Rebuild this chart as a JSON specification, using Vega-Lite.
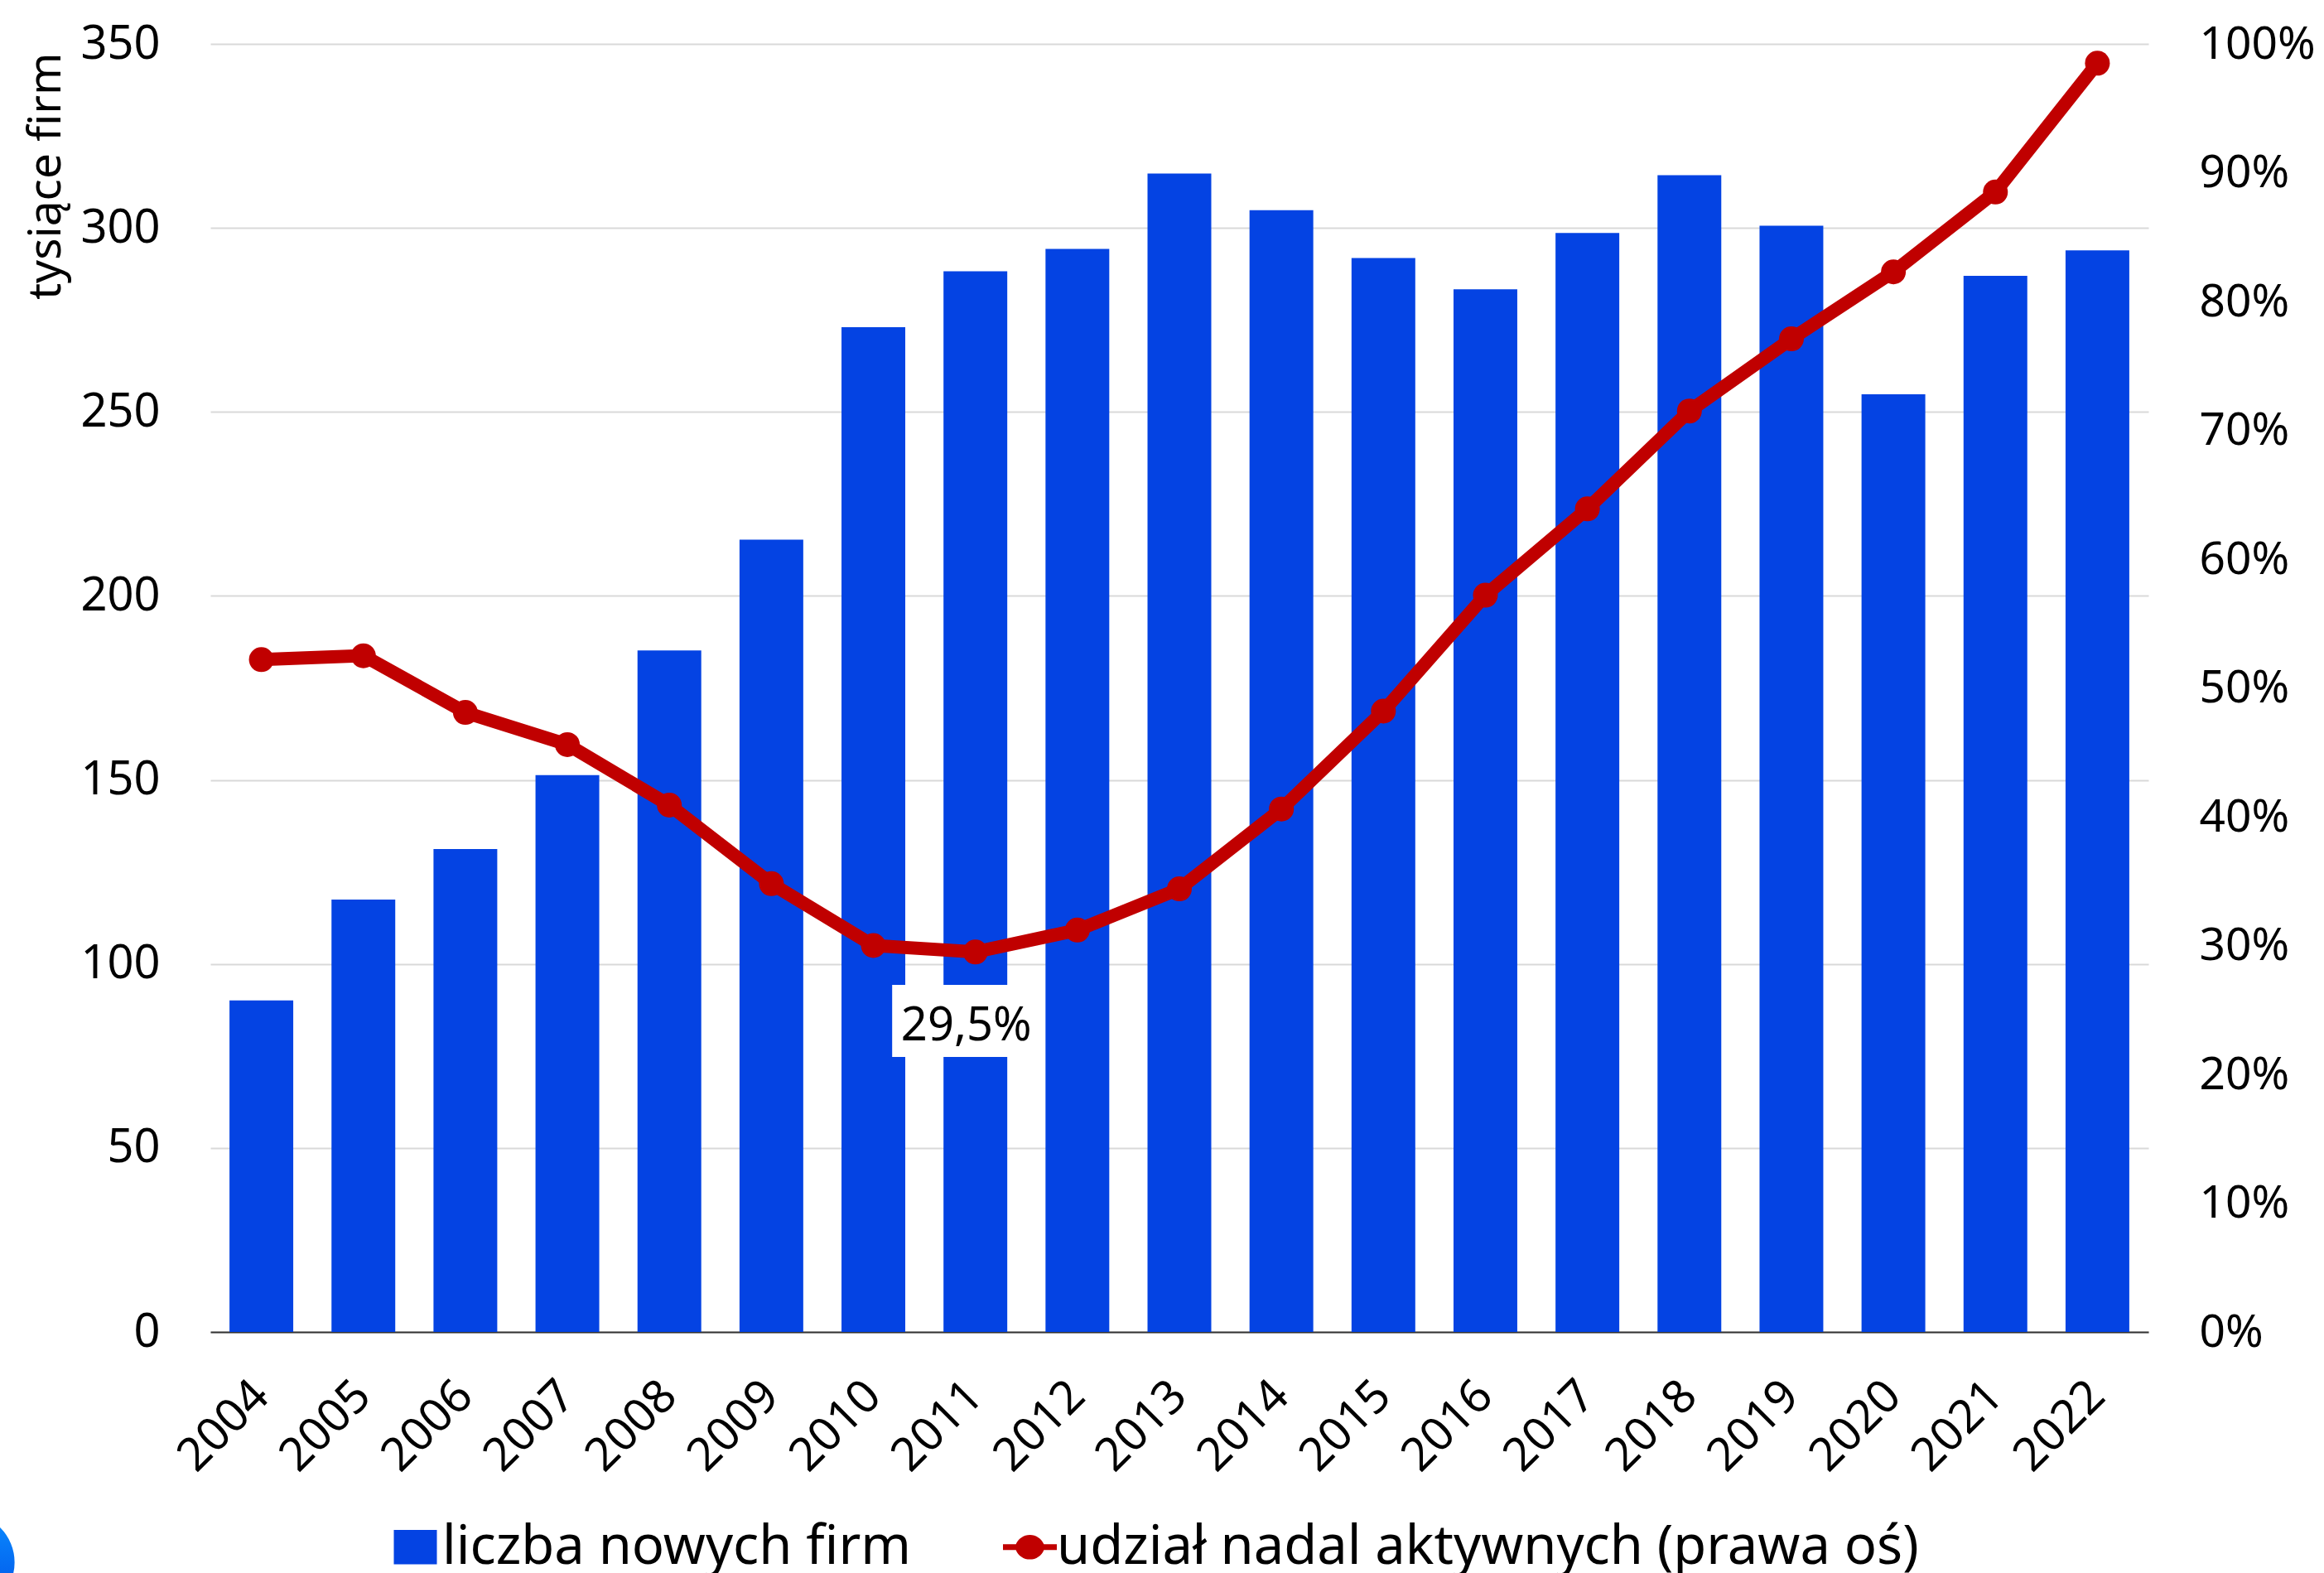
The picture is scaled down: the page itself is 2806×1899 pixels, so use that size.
{
"$schema":"https://vega.github.io/schema/vega-lite/v6.json",
"width":2340,"height":1555,"autosize":"none",
"padding":{"left":254,"top":53,"right":212,"bottom":291},
"background":"white",
"config":{"view":{"stroke":null},"font":"Noto Sans"},
"data":{"values":[
{"rok":"2004","firmy":90.1,"udzial":52.2},{"rok":"2005","firmy":117.5,"udzial":52.5},{"rok":"2006","firmy":131.2,"udzial":48.1},{"rok":"2007","firmy":151.3,"udzial":45.6},{"rok":"2008","firmy":185.2,"udzial":40.9},{"rok":"2009","firmy":215.3,"udzial":34.8},{"rok":"2010","firmy":273,"udzial":30},{"rok":"2011","firmy":288.2,"udzial":29.5},{"rok":"2012","firmy":294.3,"udzial":31.2},{"rok":"2013","firmy":314.8,"udzial":34.4},{"rok":"2014","firmy":304.8,"udzial":40.6},{"rok":"2015","firmy":291.8,"udzial":48.2},{"rok":"2016","firmy":283.3,"udzial":57.2},{"rok":"2017","firmy":298.6,"udzial":63.9},{"rok":"2018","firmy":314.3,"udzial":71.5},{"rok":"2019","firmy":300.6,"udzial":77.1},{"rok":"2020","firmy":254.8,"udzial":82.3},{"rok":"2021","firmy":287,"udzial":88.5},{"rok":"2022","firmy":293.9,"udzial":98.5}
]},
"encoding":{"x":{"field":"rok","type":"nominal","sort":null,"scale":{"paddingInner":0.375,"paddingOuter":0.1875},
"axis":{"title":null,"labelAngle":-45,"labelFontSize":56,"labelColor":"#000","domainColor":"#333333","domainWidth":2,"ticks":false,"labelPadding":68,"labelDx":3,"labelAlign":"right","labelBaseline":"middle"}}},
"layer":[
{"layer":[
{"mark":{"type":"bar"},
"encoding":{"y":{"field":"firmy","type":"quantitative","scale":{"domain":[0,350]},
"axis":{"values":[0,50,100,150,200,250,300,350],"title":"tysiące firm","titleFontSize":55,"titleFontWeight":"normal","titleColor":"#000","titleAnchor":"end","titleX":-170,"titleY":10,"labelFontSize":56,"labelColor":"#000","labelPadding":61,"ticks":false,"domain":false,"grid":true,"gridColor":"#d9d9d9","gridWidth":2}},
"color":{"datum":"liczba nowych firm","type":"nominal","scale":{"domain":["liczba nowych firm","udział nadal aktywnych (prawa oś)"],"range":["#0443e3","#c00000"]},
"legend":{"title":null,"orient":"none","legendX":215,"legendY":1782,"direction":"horizontal","columns":2,"labelFontSize":65,"labelColor":"#000","labelOffset":0,"labelLimit":0,"symbolSize":2704,"columnPadding":110,"symbolStrokeWidth":0,"symbolOpacity":1}}}},
{"transform":[{"filter":"datum.rok==='2011'"}],
"mark":{"type":"bar","color":"white","size":177,"xOffset":-12},
"encoding":{"y":{"datum":94.3,"type":"quantitative"},"y2":{"datum":74.7}}},
{"transform":[{"filter":"datum.rok==='2004'"}],
"mark":{"type":"point","filled":false,"stroke":null,"size":13935,"opacity":1,"xOffset":-357,"clip":false,"shape":"circle","fill":{"gradient":"linear","x1":0,"y1":0,"x2":0,"y2":1,"stops":[{"offset":0,"color":"#0a8cff"},{"offset":1,"color":"#0050e6"}]}},
"encoding":{"y":{"datum":-62.6,"type":"quantitative"}}}
]},
{"layer":[
{"mark":{"type":"line","strokeWidth":16},
"encoding":{"y":{"field":"udzial","type":"quantitative","scale":{"domain":[0,100]},
"axis":{"values":[0,10,20,30,40,50,60,70,80,90,100],"labelExpr":"datum.value+'%'","orient":"right","title":null,"labelFontSize":55,"labelColor":"#000","labelPadding":61,"ticks":false,"domain":false,"grid":false}},
"color":{"datum":"udział nadal aktywnych (prawa oś)","type":"nominal"}}},
{"mark":{"type":"point","filled":true,"size":900,"opacity":1},
"encoding":{"y":{"field":"udzial","type":"quantitative"},"color":{"datum":"udział nadal aktywnych (prawa oś)","type":"nominal"}}},
{"transform":[{"filter":"false"}],
"mark":{"type":"point","filled":true,"opacity":0},
"encoding":{"y":{"field":"udzial","type":"quantitative"},
"color":{"datum":"udział nadal aktywnych (prawa oś)","type":"nominal"},
"shape":{"datum":"udział nadal aktywnych (prawa oś)","type":"nominal","scale":{"domain":["liczba nowych firm","udział nadal aktywnych (prawa oś)"],"range":["M-1,-0.8H1V0.8H-1Z","M-1.25,-0.13H-0.65A0.7,0.7 0 0 1 0.65,-0.13H1.25V0.13H0.65A0.7,0.7 0 0 1 -0.65,0.13H-1.25Z"]},
"legend":{"title":null,"orient":"none","legendX":215,"legendY":1782,"direction":"horizontal","columns":2,"labelFontSize":65,"labelColor":"#000","labelOffset":0,"labelLimit":0,"symbolSize":2704,"columnPadding":110,"symbolStrokeWidth":0,"symbolOpacity":1}}}},
{"transform":[{"filter":"datum.rok==='2011'"},{"calculate":"replace(format(datum.udzial,'.1f'),'.',',')+'%'","as":"etykieta"}],
"mark":{"type":"text","fontSize":56,"color":"#000","dy":90,"xOffset":-11,"baseline":"middle"},
"encoding":{"y":{"field":"udzial","type":"quantitative"},"text":{"field":"etykieta"}}}
]}
],
"resolve":{"scale":{"y":"independent"}}
}
